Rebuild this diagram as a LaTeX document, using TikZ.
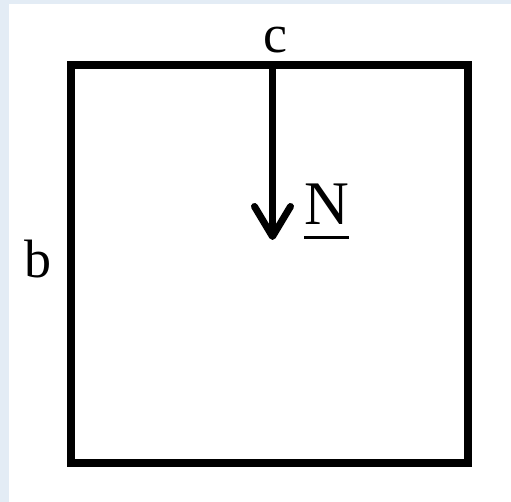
\documentclass[tikz,border=0pt]{standalone}
\usepackage{fontspec}
\setmainfont{Liberation Serif}
\usetikzlibrary{arrows.meta}
\definecolor{paneBlue}{HTML}{E3ECF5}
\newcommand{\ulabel}[1]{\setbox0\hbox{#1}\rlap{\vrule height -11pt depth 14pt width \wd0}#1}

\begin{document}
\begin{tikzpicture}[
    x=1pt, y=1pt,
    plate/.style={draw, line width=8pt, minimum width=397pt, minimum height=398pt,
                  inner sep=0pt, fill=white},
    lbl/.style={inner sep=0pt, anchor=base, font=\fontsize{54}{60}\selectfont},
    arr/.style={line width=7pt, -{Straight Barb[length=30pt, width=36pt, round]}}
  ]
    % background
    \fill[paneBlue] (0,0) rectangle (511,502);
    \fill[white] (9,0) rectangle (511,498);
    \useasboundingbox (0,0) rectangle (511,502);

    \node[plate] (plate) at (269.5,238) {};

    % force arrow
    \coordinate (top) at (272.5,437);
    \coordinate (tip) at (272.5,262);
    \draw[arr] (top) -- (tip);

    % labels
    \node[lbl] (c) at (275.5,449) {c};
    \node[lbl] (b) at (37.5,224) {b};
    \node[lbl, anchor=base west, font=\fontsize{62}{70}\selectfont] (N) at (304,277)
      {\ulabel{N}};
\end{tikzpicture}
\end{document}
